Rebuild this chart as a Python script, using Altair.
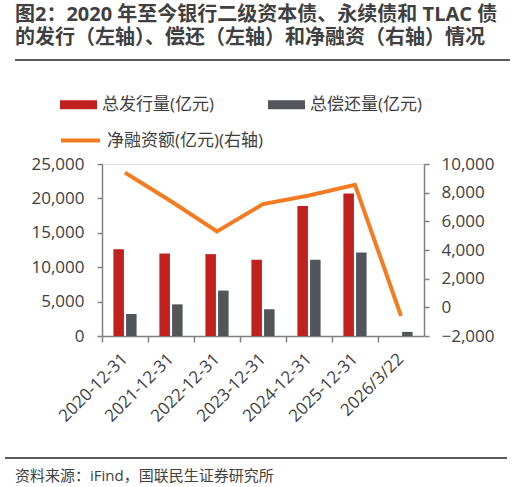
import altair as alt
import pandas as pd

# ---- data ----
dates = ["2020-12-31", "2021-12-31", "2022-12-31", "2023-12-31",
         "2024-12-31", "2025-12-31", "2026/3/22"]
issuance = [12600, 12000, 11900, 11100, 18900, 20700, 0]
redemption = [3200, 4600, 6600, 3900, 11100, 12150, 600]
net_financing = [9400, 7400, 5300, 7200, 7800, 8550, -600]

s_issue = "总发行量(亿元)"
s_redeem = "总偿还量(亿元)"
s_net = "净融资额(亿元)(右轴)"

title_lines = ["图2：2020 年至今银行二级资本债、永续债和 TLAC 债",
               "的发行（左轴）、偿还（左轴）和净融资（右轴）情况"]
source_text = "资料来源：iFind，国联民生证券研究所"

left_ticks = [0, 5000, 10000, 15000, 20000, 25000]
right_ticks = [-2000, 0, 2000, 4000, 6000, 8000, 10000]

# ---- tables ----
bars_df = pd.DataFrame({
    "date": dates * 2,
    "series": [s_issue] * len(dates) + [s_redeem] * len(dates),
    "value": issuance + redemption,
})
line_df = pd.DataFrame({"date": dates, "net": net_financing, "series": [s_net] * len(dates)})

FONT = "Open Sans, Noto Sans CJK SC"
TXT = "#404040"
AX = "#808080"
RED = "#C0201E"
GRAY = "#52565B"
ORANGE = "#F47B20"

x_enc = alt.X("date:N", sort=dates, title=None,
              scale=alt.Scale(paddingInner=0, paddingOuter=0),
              axis=alt.Axis(labelAngle=-45, labelAlign="right", labelBaseline="middle",
                            labelPadding=14, tickSize=6, domainColor=AX, tickColor=AX,
                            labelColor=TXT, labelFontSize=17, labelFont=FONT,
                            bandPosition=0, domainWidth=1.5, tickWidth=1.5))

wide_rect = "M-1,-0.243H1V0.243H-1Z"

bars = alt.Chart(bars_df).mark_bar().encode(
    x=x_enc,
    xOffset=alt.XOffset("series:N", sort=[s_issue, s_redeem],
                        scale=alt.Scale(paddingInner=0.17, paddingOuter=0.9)),
    y=alt.Y("value:Q", title=None,
            scale=alt.Scale(domain=[0, 25000], nice=False),
            axis=alt.Axis(values=left_ticks, format=",d", grid=False, tickSize=5,
                          labelPadding=13, domainColor=AX, tickColor=AX,
                          labelColor=TXT, labelFontSize=17, labelFont=FONT,
                          domainWidth=1.5, tickWidth=1.5)),
    color=alt.Color("series:N", sort=[s_issue, s_redeem],
                    scale=alt.Scale(domain=[s_issue, s_redeem], range=[RED, GRAY]),
                    legend=alt.Legend(title=None, orient="none", legendX=-42, legendY=-78,
                                      direction="horizontal", columns=2, columnPadding=53,
                                      symbolType=wide_rect, symbolSize=1369,
                                      symbolStrokeWidth=0, labelFontSize=17, labelFont=FONT,
                                      labelColor=TXT, labelOffset=5, padding=0)),
)

line = alt.Chart(line_df).mark_line(strokeWidth=4).encode(
    x=alt.X("date:N", sort=dates),
    y=alt.Y("net:Q", title=None,
            scale=alt.Scale(domain=[-2000, 10000], nice=False),
            axis=alt.Axis(orient="right", values=right_ticks, format=",d", grid=False,
                          tickSize=5, labelPadding=12, domainColor=AX, tickColor=AX,
                          labelColor=TXT, labelFontSize=17, labelFont=FONT,
                          domainWidth=1.5, tickWidth=1.5)),
    stroke=alt.Stroke("series:N",
                      scale=alt.Scale(domain=[s_net], range=[ORANGE]),
                      legend=alt.Legend(title=None, orient="none", legendX=-43, legendY=-45,
                                        symbolType="stroke", symbolSize=1521,
                                        symbolStrokeWidth=4, labelFontSize=17,
                                        labelFont=FONT, labelColor=TXT, labelOffset=5,
                                        padding=0)),
)

title_df = pd.DataFrame({"t": ["\n".join(title_lines)]})
title = alt.Chart(title_df).mark_text(
    align="left", baseline="top", fontSize=20, fontWeight="bold", font=FONT, color=TXT,
    lineBreak="\n", lineHeight=22.5
).encode(text="t:N", x=alt.value(-87), y=alt.value(-159))

source = alt.Chart(pd.DataFrame({"t": [source_text]})).mark_text(
    align="left", baseline="middle", fontSize=15, font=FONT, color=TXT
).encode(text="t:N", x=alt.value(-87), y=alt.value(312))

rule_top = alt.Chart(pd.DataFrame({"a": [0]})).mark_rule(color="#5A5A5A", strokeWidth=2).encode(
    x=alt.value(-87), x2=alt.value(408), y=alt.value(-104))
rule_bottom = alt.Chart(pd.DataFrame({"a": [0]})).mark_rule(color="#5A5A5A", strokeWidth=2).encode(
    x=alt.value(-97), x2=alt.value(405), y=alt.value(294))

chart = alt.layer(bars, line, title, source, rule_top, rule_bottom).resolve_scale(
    y="independent", color="independent", stroke="independent"
).properties(
    width=322, height=172,
    autosize=alt.AutoSizeParams(type="none"),
    padding={"left": 102, "top": 164, "right": 101, "bottom": 151},
).configure_view(stroke=None).configure(background="white")

chart.save("out.html", embed_options={"renderer": "svg", "actions": False})
